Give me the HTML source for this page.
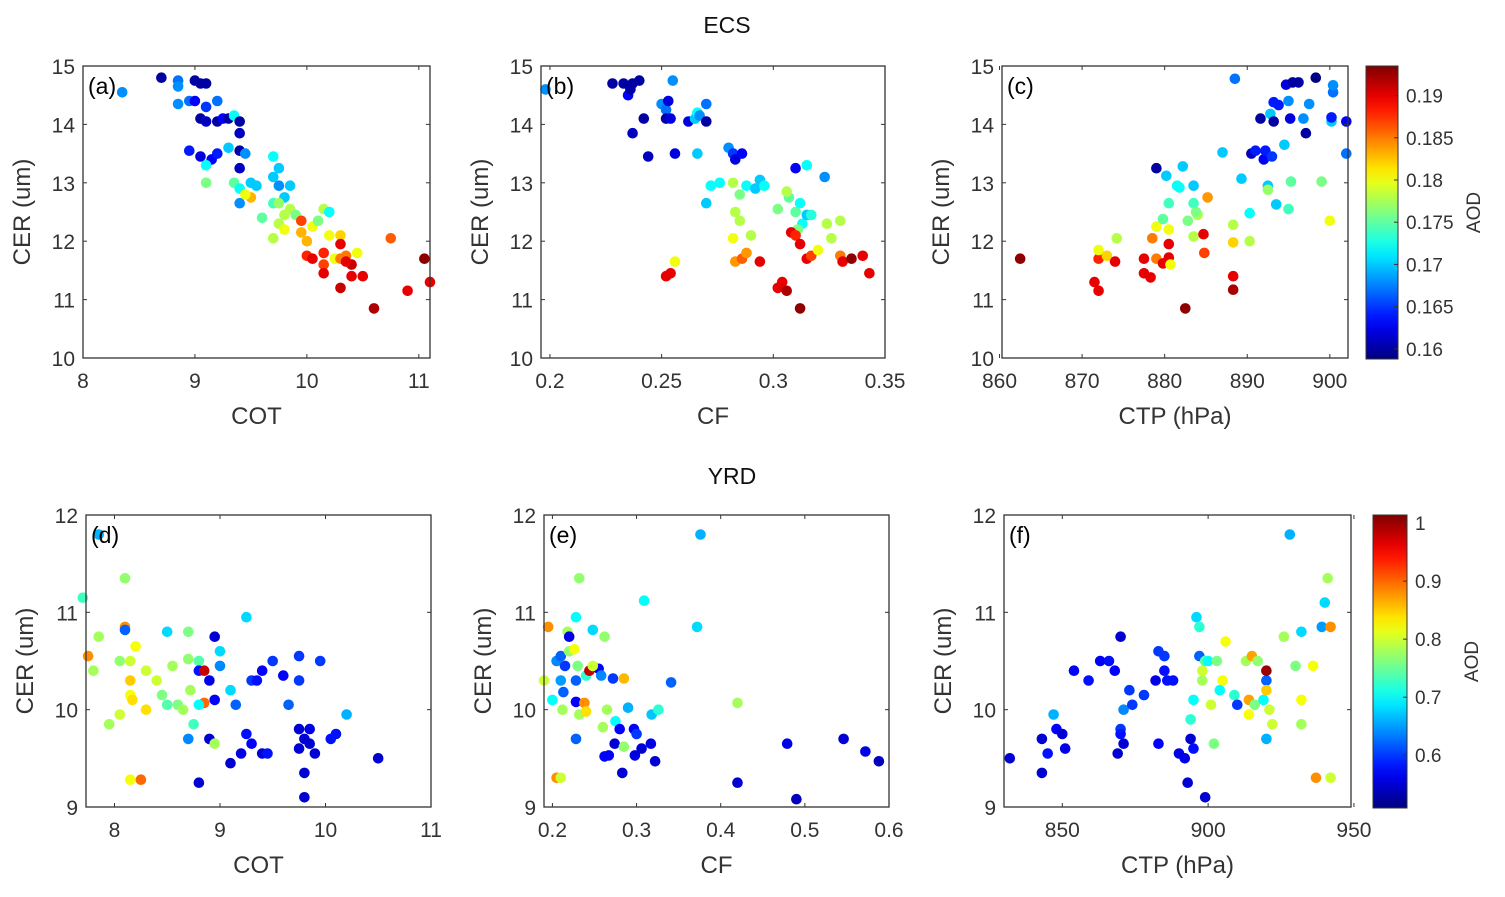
<!DOCTYPE html>
<html><head><meta charset="utf-8"><style>
html,body{margin:0;padding:0;background:#fff;}
svg{display:block;font-family:"Liberation Sans",Arial,sans-serif;}
</style></head><body>
<svg id="chart" width="1505" height="897" viewBox="0 0 1505 897" xmlns="http://www.w3.org/2000/svg">
<text x="727" y="33" font-size="23" text-anchor="middle" fill="#111">ECS</text>
<text x="732" y="484" font-size="23" text-anchor="middle" fill="#111">YRD</text>
</svg>
<script>
// ---- data ----
const aData=[[8.35,14.55,.168],[8.7,14.8,.16],[8.85,14.75,.167],[8.85,14.65,.168],[8.85,14.35,.168],[8.95,14.4,.167],[9.0,14.75,.16],[9.05,14.7,.16],[9.1,14.7,.16],[9.0,14.4,.163],[9.1,14.3,.165],[9.05,14.1,.16],[9.1,14.05,.161],[9.2,14.05,.16],[9.25,14.1,.163],[9.3,14.1,.16],[9.2,14.4,.167],[9.35,14.15,.172],[9.4,14.05,.16],[9.4,13.85,.161],[8.95,13.55,.164],[9.05,13.45,.162],[9.15,13.4,.163],[9.2,13.5,.164],[9.1,13.3,.172],[9.3,13.6,.17],[9.4,13.55,.16],[9.45,13.5,.168],[9.4,13.25,.161],[9.1,13.0,.176],[9.35,13.0,.175],[9.4,12.9,.172],[9.5,13.0,.17],[9.4,12.65,.168],[9.5,12.75,.183],[9.45,12.8,.18],[9.55,12.95,.17],[9.6,12.4,.175],[9.7,13.45,.172],[9.75,13.25,.17],[9.7,13.1,.17],[9.75,12.95,.168],[9.85,12.95,.17],[9.8,12.75,.17],[9.7,12.65,.174],[9.75,12.65,.177],[9.85,12.55,.178],[9.9,12.45,.176],[9.8,12.45,.178],[9.75,12.3,.178],[9.7,12.05,.178],[9.8,12.2,.18],[9.95,12.15,.183],[10.0,12.0,.183],[9.95,12.35,.187],[10.05,12.25,.18],[10.1,12.35,.176],[10.15,12.55,.178],[10.2,12.5,.172],[10.2,12.1,.18],[10.3,12.1,.182],[10.0,11.75,.188],[10.05,11.7,.19],[10.15,11.8,.188],[10.15,11.6,.187],[10.15,11.45,.19],[10.25,11.7,.18],[10.3,11.95,.19],[10.35,11.75,.185],[10.3,11.7,.185],[10.4,11.6,.191],[10.35,11.65,.19],[10.45,11.8,.18],[10.4,11.4,.19],[10.5,11.4,.19],[10.3,11.2,.191],[10.6,10.85,.192],[10.75,12.05,.186],[10.9,11.15,.19],[11.05,11.7,.193],[11.1,11.3,.19]];
const bData=[[.198,14.6,.168],[.228,14.7,.16],[.233,14.7,.16],[.237,14.7,.16],[.24,14.75,.16],[.235,14.5,.163],[.236,14.6,.16],[.242,14.1,.16],[.237,13.85,.161],[.244,13.45,.161],[.25,14.35,.168],[.252,14.25,.167],[.253,14.4,.162],[.255,14.75,.168],[.252,14.1,.16],[.254,14.1,.162],[.256,13.5,.162],[.262,14.05,.162],[.265,14.1,.17],[.266,14.2,.172],[.267,14.15,.168],[.27,14.35,.167],[.27,14.05,.16],[.266,13.5,.17],[.27,12.65,.17],[.272,12.95,.172],[.276,13.0,.172],[.252,11.4,.19],[.254,11.45,.19],[.256,11.65,.18],[.28,13.6,.168],[.282,13.5,.165],[.283,13.4,.162],[.286,13.5,.163],[.282,13.0,.178],[.285,12.8,.176],[.288,12.95,.172],[.292,12.9,.17],[.294,13.05,.17],[.296,12.95,.172],[.283,12.5,.178],[.285,12.35,.178],[.282,12.05,.18],[.29,12.1,.178],[.283,11.65,.184],[.286,11.7,.186],[.288,11.8,.184],[.294,11.65,.19],[.302,12.55,.176],[.307,12.75,.175],[.306,12.85,.178],[.312,12.65,.172],[.31,12.5,.175],[.313,12.3,.172],[.31,13.25,.163],[.315,13.3,.172],[.315,12.45,.17],[.317,12.45,.173],[.311,12.2,.176],[.308,12.15,.19],[.31,12.1,.188],[.312,11.95,.19],[.315,11.7,.19],[.317,11.75,.187],[.32,11.85,.18],[.323,13.1,.168],[.324,12.3,.178],[.326,12.05,.178],[.33,12.35,.178],[.33,11.75,.185],[.331,11.65,.19],[.335,11.7,.193],[.34,11.75,.19],[.343,11.45,.19],[.302,11.2,.19],[.304,11.3,.19],[.306,11.15,.192],[.312,10.85,.193]];
const cData=[[862.5,11.7,.193],[871.5,11.3,.19],[872,11.15,.19],[872,11.7,.188],[872,11.85,.18],[873,11.75,.182],[874,11.65,.19],[874.2,12.05,.178],[877.5,11.45,.19],[877.5,11.7,.19],[878.3,11.38,.19],[878.5,12.05,.185],[879,11.7,.185],[880.5,11.95,.19],[879.8,11.62,.19],[880.5,11.72,.19],[879,12.25,.18],[879.8,12.38,.175],[880.5,12.65,.174],[880.5,12.2,.18],[881.5,12.95,.172],[881.8,12.92,.172],[880.2,13.12,.17],[883.5,12.95,.17],[879,13.25,.16],[882.2,13.28,.17],[882.8,12.35,.176],[883.5,12.65,.174],[883.5,12.08,.178],[884,12.45,.178],[884.7,12.12,.19],[884.8,11.8,.187],[885.2,12.75,.184],[883.8,12.5,.176],[880.7,11.6,.18],[882.5,10.85,.193],[887,13.52,.17],[888.5,14.78,.167],[888.3,11.98,.182],[888.3,11.4,.19],[888.3,11.17,.192],[888.3,12.28,.178],[889.3,13.07,.17],[890.3,12.0,.178],[890.3,12.48,.172],[890.5,13.5,.161],[891,13.55,.164],[892,13.4,.163],[891.6,14.1,.16],[892.2,13.55,.164],[893,13.45,.165],[892.8,14.18,.17],[892.5,12.95,.17],[892.5,12.88,.177],[893.5,12.63,.17],[893.2,14.38,.164],[893.8,14.33,.164],[893.2,14.05,.16],[895,14.4,.168],[894.5,13.65,.17],[894.7,14.68,.162],[895.5,14.72,.16],[896.2,14.72,.16],[895.3,13.02,.175],[895,12.55,.174],[895.2,14.1,.162],[897.1,13.85,.16],[897.5,14.35,.168],[896.8,14.1,.168],[898.3,14.8,.159],[899,13.02,.176],[900,12.35,.18],[900.2,14.05,.17],[900.4,14.55,.167],[900.4,14.67,.168],[900.2,14.12,.164],[902,14.05,.163],[902,13.5,.167]];
const dData=[[7.7,11.15,.73],[7.85,11.8,.66],[7.85,10.75,.78],[7.75,10.55,.88],[7.8,10.4,.78],[7.95,9.85,.78],[8.05,9.95,.8],[8.05,10.5,.77],[8.1,10.85,.88],[8.1,10.82,.62],[8.1,11.35,.77],[8.15,10.5,.8],[8.15,10.3,.85],[8.15,10.15,.82],[8.17,10.1,.84],[8.2,10.65,.82],[8.15,9.28,.82],[8.25,9.28,.9],[8.3,10.4,.8],[8.3,10.0,.84],[8.4,10.3,.8],[8.45,10.15,.76],[8.5,10.05,.74],[8.55,10.45,.78],[8.5,10.8,.68],[8.6,10.05,.76],[8.65,10.0,.78],[8.7,10.8,.76],[8.7,10.52,.77],[8.72,10.2,.78],[8.75,9.85,.73],[8.7,9.7,.64],[8.8,10.5,.74],[8.8,10.4,.58],[8.85,10.07,.9],[8.8,10.05,.7],[8.85,10.4,.98],[8.9,10.3,.56],[8.95,10.75,.55],[8.9,9.7,.55],[8.8,9.25,.55],[9.0,10.6,.68],[9.0,10.45,.64],[8.95,10.1,.57],[8.95,9.65,.78],[9.1,10.2,.68],[9.15,10.05,.62],[9.1,9.45,.55],[9.2,9.55,.56],[9.25,10.95,.68],[9.25,9.75,.58],[9.3,10.3,.6],[9.3,9.65,.57],[9.35,10.3,.58],[9.4,10.4,.57],[9.4,9.55,.55],[9.45,9.55,.58],[9.5,10.5,.6],[9.6,10.35,.57],[9.65,10.05,.62],[9.75,10.55,.6],[9.75,10.3,.6],[9.75,9.8,.55],[9.75,9.6,.55],[9.8,9.7,.55],[9.8,9.35,.55],[9.8,9.1,.55],[9.85,9.8,.56],[9.85,9.65,.55],[9.9,9.55,.55],[9.95,10.5,.6],[10.05,9.7,.58],[10.1,9.75,.58],[10.2,9.95,.66],[10.5,9.5,.55]];
const eData=[[.195,10.85,.88],[.19,10.3,.8],[.2,10.1,.7],[.205,10.5,.64],[.21,10.3,.65],[.205,9.3,.88],[.21,9.3,.8],[.21,10.55,.62],[.22,10.6,.77],[.215,10.45,.6],[.213,10.18,.62],[.212,10.0,.78],[.218,10.8,.78],[.22,10.75,.56],[.228,10.95,.7],[.23,10.45,.76],[.228,10.08,.57],[.228,9.7,.62],[.228,10.3,.62],[.232,9.95,.78],[.226,10.62,.82],[.232,11.35,.77],[.238,10.07,.88],[.24,9.98,.84],[.24,10.35,.72],[.244,10.4,.98],[.255,10.42,.57],[.248,10.45,.8],[.248,10.82,.68],[.258,10.35,.64],[.26,9.82,.78],[.262,10.75,.77],[.265,10.0,.78],[.262,9.52,.57],[.267,9.53,.57],[.272,10.32,.6],[.275,9.88,.7],[.274,9.65,.55],[.28,9.8,.57],[.285,9.62,.77],[.285,10.32,.86],[.283,9.35,.55],[.29,10.02,.66],[.297,9.8,.57],[.298,9.53,.56],[.3,9.75,.6],[.306,9.6,.55],[.309,11.12,.7],[.317,9.65,.56],[.318,9.95,.67],[.322,9.47,.55],[.326,10.0,.72],[.341,10.28,.62],[.372,10.85,.68],[.376,11.8,.66],[.42,10.07,.78],[.42,9.25,.55],[.479,9.65,.56],[.49,9.08,.54],[.546,9.7,.55],[.572,9.57,.56],[.588,9.47,.54]];
const fData=[[832,9.5,.55],[843,9.7,.55],[843,9.35,.55],[845,9.55,.58],[847,9.95,.66],[848,9.8,.57],[850,9.75,.55],[851,9.6,.56],[854,10.4,.57],[859,10.3,.58],[863,10.5,.57],[866,10.5,.58],[868,10.4,.57],[869,9.55,.55],[870,10.75,.55],[870,9.8,.6],[870,9.75,.58],[871,9.65,.55],[871,10.0,.64],[873,10.2,.6],[874,10.05,.6],[878,10.15,.6],[882,10.3,.56],[883,10.6,.6],[883,9.65,.57],[885,10.55,.6],[885,10.4,.58],[886,10.3,.58],[888,10.3,.58],[890,9.55,.56],[892,9.5,.56],[893,9.25,.55],[894,9.7,.55],[894,9.9,.72],[895,10.1,.7],[895,9.6,.58],[896,10.95,.68],[897,10.85,.72],[897,10.55,.62],[898,10.3,.78],[898,10.4,.8],[899,10.5,.74],[899,9.1,.55],[900,10.5,.7],[901,10.05,.8],[902,9.65,.76],[903,10.5,.76],[904,10.2,.7],[905,10.3,.82],[906,10.7,.82],[909,10.15,.72],[910,10.05,.6],[913,10.5,.78],[914,10.1,.87],[914,9.95,.82],[915,10.55,.87],[916,10.05,.76],[917,10.5,.77],[919,10.1,.7],[920,10.3,.62],[920,10.2,.85],[920,10.4,1.0],[920,9.7,.66],[921,10.0,.8],[922,9.85,.8],[926,10.75,.78],[928,11.8,.66],[930,10.45,.76],[932,10.8,.68],[932,10.1,.82],[932,9.85,.78],[936,10.45,.82],[937,9.3,.88],[939,10.85,.65],[940,11.1,.68],[941,11.35,.78],[942,10.85,.88],[942,9.3,.8]];
const ticksA=[8,9,10,11], ticksB=[0.2,0.25,0.3,0.35], ticksC=[860,870,880,890,900];
const ticksD=[8,9,10,11], ticksE=[0.2,0.3,0.4,0.5,0.6], ticksF=[850,900,950];
const yTop=[10,11,12,13,14,15], yBot=[9,10,11,12];
const cbTop=[0.16,0.165,0.17,0.175,0.18,0.185,0.19], cbBot=[0.6,0.7,0.8,0.9,1];

const NS="http://www.w3.org/2000/svg";
const svg=document.getElementById('chart');
function mk(tag,attrs,parent){const e=document.createElementNS(NS,tag);for(const k in attrs)e.setAttribute(k,attrs[k]);(parent||svg).appendChild(e);return e;}
function jet(t){t=Math.max(0,Math.min(1,t));
 const r=Math.max(0,Math.min(1,1.5-Math.abs(4*t-3))),g=Math.max(0,Math.min(1,1.5-Math.abs(4*t-2))),b=Math.max(0,Math.min(1,1.5-Math.abs(4*t-1)));
 return `rgb(${Math.round(r*255)},${Math.round(g*255)},${Math.round(b*255)})`;}

const panels=[
 {id:'a',data:aData,L:83,R:430,T:66,B:358,x0:8,x1:11.1,y0:10,y1:15,xt:ticksA,yt:yTop,xl:'COT',c0:0.1588,c1:0.1935},
 {id:'b',data:bData,L:541,R:885,T:66,B:358,x0:0.196,x1:0.35,y0:10,y1:15,xt:ticksB,yt:yTop,xl:'CF',c0:0.1588,c1:0.1935},
 {id:'c',data:cData,L:1002,R:1348,T:66,B:358,x0:860.3,x1:902.2,y0:10,y1:15,xt:ticksC,yt:yTop,xl:'CTP (hPa)',c0:0.1588,c1:0.1935},
 {id:'d',data:dData,L:86,R:431,T:515,B:807,x0:7.73,x1:11,y0:9,y1:12,xt:ticksD,yt:yBot,xl:'COT',c0:0.509,c1:1.014},
 {id:'e',data:eData,L:544,R:889,T:515,B:807,x0:0.19,x1:0.6,y0:9,y1:12,xt:ticksE,yt:yBot,xl:'CF',c0:0.509,c1:1.014},
 {id:'f',data:fData,L:1004,R:1351,T:515,B:807,x0:830,x1:949,y0:9,y1:12,xt:ticksF,yt:yBot,xl:'CTP (hPa)',c0:0.509,c1:1.014}
];
panels.forEach(p=>{
 const g=mk('g',{});
 
 
 const sx=v=>p.L+(v-p.x0)/(p.x1-p.x0)*(p.R-p.L);
 const sy=v=>p.B-(v-p.y0)/(p.y1-p.y0)*(p.B-p.T);
 mk('rect',{x:p.L,y:p.T,width:p.R-p.L,height:p.B-p.T,fill:'#fff'},g);
 p.data.forEach(d=>{
  const c=mk('circle',{cx:sx(d[0]).toFixed(1),cy:sy(d[1]).toFixed(1),r:5.3,fill:jet((d[2]-p.c0)/(p.c1-p.c0))},g);
  
  
 });
 mk('rect',{x:p.L,y:p.T,width:p.R-p.L,height:p.B-p.T,fill:'none',stroke:'#333','stroke-width':1.3},g);
 p.xt.forEach(t=>{const x=sx(t);
  mk('line',{x1:x,x2:x,y1:p.B,y2:p.B-4,stroke:'#333'},g);mk('line',{x1:x,x2:x,y1:p.T,y2:p.T+4,stroke:'#333'},g);
  const tx=mk('text',{x:x,y:p.B+30,'font-size':21,'text-anchor':'middle',fill:'#333'},g);tx.textContent=String(t);
  
  });
 p.yt.forEach(t=>{const y=sy(t);
  mk('line',{x1:p.L,x2:p.L+4,y1:y,y2:y,stroke:'#333'},g);mk('line',{x1:p.R,x2:p.R-4,y1:y,y2:y,stroke:'#333'},g);
  const tx=mk('text',{x:p.L-8,y:y+8,'font-size':21,'text-anchor':'end',fill:'#333'},g);tx.textContent=String(t);
  
  });
 const xl=mk('text',{x:(p.L+p.R)/2,y:p.B+66,'font-size':24,'text-anchor':'middle',fill:'#333'},g);xl.textContent=p.xl;
 
 
 const yx=p.L-53,yy=(p.T+p.B)/2;
 const yl=mk('text',{x:yx,y:yy,'font-size':24,'text-anchor':'middle',fill:'#333',transform:`rotate(-90 ${yx} ${yy})`},g);yl.textContent='CER (um)';
 
 
 const pl=mk('text',{x:p.L+5,y:p.T+28,'font-size':23,fill:'#000'},g);pl.textContent='('+p.id+')';
 
 
});
// colorbars
const cbs=[{L:1366,R:1398,T:66,B:359,v0:0.1588,v1:0.1935,ticks:cbTop,lx:1480,name:'colorbar-ecs'},
           {L:1373,R:1407,T:515,B:808,v0:0.509,v1:1.014,ticks:cbBot,lx:1478,name:'colorbar-yrd'}];
const defs=mk('defs',{});
cbs.forEach((c,i)=>{
 const lg=mk('linearGradient',{id:'jg'+i,x1:0,y1:1,x2:0,y2:0},defs);
 for(let k=0;k<=20;k++)mk('stop',{offset:k/20,'stop-color':jet(k/20)},lg);
 const g=mk('g',{});
 
 
 mk('rect',{x:c.L,y:c.T,width:c.R-c.L,height:c.B-c.T,fill:`url(#jg${i})`,stroke:'#333','stroke-width':1},g);
 c.ticks.forEach(t=>{const y=c.B-(t-c.v0)/(c.v1-c.v0)*(c.B-c.T);
  mk('line',{x1:c.R,x2:c.R-4,y1:y,y2:y,stroke:'#333'},g);
  const tx=mk('text',{x:c.R+8,y:y+7,'font-size':19,fill:'#333'},g);tx.textContent=String(t);
  
  });
 const yy=(c.T+c.B)/2;
 const l=mk('text',{x:c.lx,y:yy,'font-size':19,'text-anchor':'middle',fill:'#333',transform:`rotate(-90 ${c.lx} ${yy})`},g);l.textContent='AOD';
 
 
});
</script>
</body></html>
